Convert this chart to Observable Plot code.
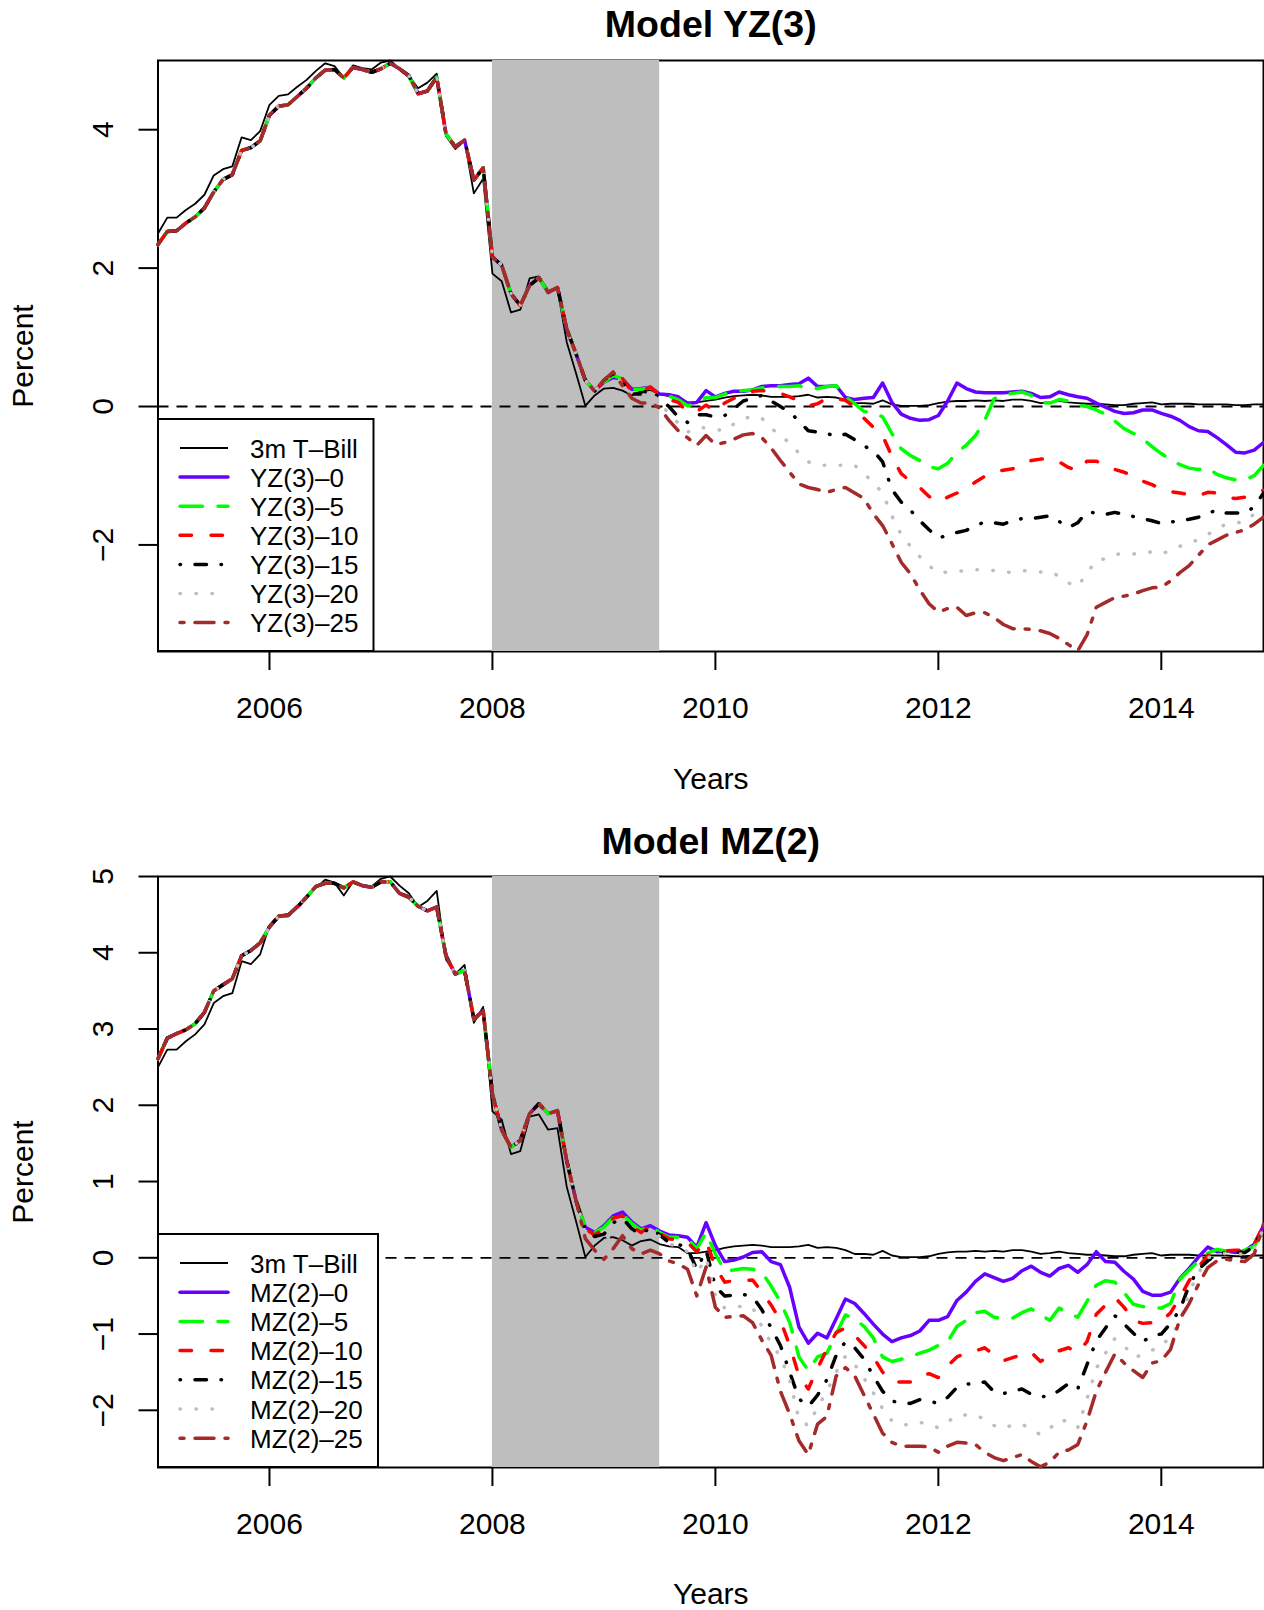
<!DOCTYPE html>
<html><head><meta charset="utf-8">
<script src="https://cdn.jsdelivr.net/npm/d3@7"></script>
<script src="https://cdn.jsdelivr.net/npm/@observablehq/plot@0.6"></script>
<style>
body{margin:0;background:#fff;}
#page{position:relative;width:1264px;height:1610px;font-family:"Liberation Sans",Arial,Helvetica,sans-serif;background:#fff;}
.panel{position:absolute;left:0;}
#overlay{position:absolute;left:0;top:0;pointer-events:none;}
</style></head><body><div id="page"></div>
<script>
// ---------------- data ----------------
const xTicks = [2006, 2008, 2010, 2012, 2014];
const yzTicks = [-2, 0, 2, 4];
const mzTicks = [-2, -1, 0, 1, 2, 3, 4, 5];
const recession = [{start: 2008, end: 2009.5}];
const startYear = 2005; // monthly data, Jan 2005 - Dec 2014

const tbill = [
 2.50, 2.73, 2.73, 2.84, 2.93, 3.06, 3.34, 3.43, 3.47, 3.89, 3.85, 3.98,
 4.36, 4.49, 4.51, 4.62, 4.72, 4.85, 4.96, 4.92, 4.75, 4.93, 4.89, 4.87,
 4.97, 5.00, 4.88, 4.78, 4.60, 4.68, 4.81, 3.91, 3.72, 3.84, 3.08, 3.29,
 1.92, 1.81, 1.36, 1.40, 1.85, 1.88, 1.68, 1.70, 0.93, 0.48, 0.01, 0.16,
 0.26, 0.27, 0.23, 0.16, 0.22, 0.24, 0.18, 0.15, 0.14, 0.06, 0.06, 0.08,
 0.10, 0.13, 0.15, 0.16, 0.17, 0.16, 0.14, 0.14, 0.14, 0.15, 0.17, 0.13,
 0.14, 0.13, 0.10, 0.05, 0.05, 0.04, 0.09, 0.03, 0.01, 0.01, 0.01, 0.02,
 0.05, 0.07, 0.08, 0.08, 0.09, 0.08, 0.09, 0.08, 0.10, 0.10, 0.08, 0.05,
 0.06, 0.08, 0.06, 0.05, 0.04, 0.04, 0.03, 0.02, 0.02, 0.04, 0.05, 0.06,
 0.03, 0.04, 0.04, 0.04, 0.03, 0.03, 0.03, 0.03, 0.02, 0.02, 0.03, 0.03
];

// Model YZ(3): common path Jan 2005 - Oct 2008, then each scenario Nov 2008 - Dec 2014
const yzEarly = [
 2.34, 2.53, 2.54, 2.65, 2.74, 2.87, 3.10, 3.28, 3.35, 3.70, 3.74, 3.84,
 4.21, 4.34, 4.36, 4.48, 4.60, 4.75, 4.86, 4.87, 4.75, 4.90, 4.87, 4.83,
 4.88, 4.96, 4.88, 4.78, 4.52, 4.56, 4.76, 3.94, 3.75, 3.85, 3.27, 3.45,
 2.16, 2.04, 1.63, 1.46, 1.75, 1.86, 1.65, 1.72, 1.12, 0.76
];
const yz0Late = [
 0.38, 0.23,
 0.35, 0.42, 0.40, 0.25, 0.26, 0.28, 0.18, 0.17, 0.14, 0.04, 0.06, 0.23,
 0.14, 0.19, 0.22, 0.22, 0.24, 0.29, 0.30, 0.30, 0.32, 0.33, 0.41, 0.29,
 0.29, 0.30, 0.13, 0.10, 0.12, 0.13, 0.34, 0.06, -0.11, -0.17, -0.20, -0.19,
 -0.13, 0.08, 0.34, 0.26, 0.21, 0.20, 0.20, 0.20, 0.21, 0.22, 0.19, 0.13,
 0.14, 0.21, 0.17, 0.14, 0.12, 0.05, -0.01, -0.07, -0.10, -0.09, -0.05, -0.05,
 -0.10, -0.14, -0.20, -0.29, -0.35, -0.36, -0.45, -0.55, -0.66, -0.67, -0.63, -0.52
];
const yz5Late = [
 0.38, 0.22,
 0.35, 0.45, 0.40, 0.25, 0.25, 0.27, 0.18, 0.15, 0.10, 0.01, 0.04, 0.13,
 0.13, 0.18, 0.22, 0.23, 0.24, 0.27, 0.28, 0.29, 0.29, 0.30, 0.26, 0.26,
 0.29, 0.30, 0.14, 0.04, -0.07, -0.09, -0.15, -0.39, -0.61, -0.71, -0.78, -0.87,
 -0.90, -0.82, -0.66, -0.56, -0.42, -0.20, 0.11, 0.17, 0.19, 0.21, 0.16, 0.06,
 0.05, 0.10, 0.08, 0.02, 0.00, -0.05, -0.11, -0.21, -0.32, -0.39, -0.47, -0.58,
 -0.68, -0.77, -0.84, -0.89, -0.91, -0.89, -0.98, -1.03, -1.06, -1.06, -1.00, -0.85
];
const yz10Late = [
 0.38, 0.22,
 0.38, 0.50, 0.40, 0.22, 0.22, 0.28, 0.17, 0.10, 0.06, -0.08, -0.07, 0.02,
 -0.07, 0.05, 0.12, 0.16, 0.22, 0.23, 0.22, 0.19, 0.14, 0.08, 0.01, 0.04,
 0.12, 0.11, 0.09, -0.01, -0.17, -0.30, -0.42, -0.72, -0.97, -1.08, -1.17, -1.30,
 -1.38, -1.31, -1.25, -1.18, -1.09, -1.01, -0.95, -0.92, -0.90, -0.83, -0.78, -0.76,
 -0.76, -0.80, -0.88, -0.93, -0.79, -0.79, -0.85, -0.91, -0.95, -1.01, -1.08, -1.13,
 -1.19, -1.23, -1.25, -1.27, -1.29, -1.24, -1.25, -1.31, -1.33, -1.31, -1.27, -1.21
];
const yz15Late = [
 0.38, 0.22,
 0.38, 0.48, 0.35, 0.18, 0.18, 0.25, 0.12, 0.00, -0.15, -0.23, -0.12, -0.12,
 -0.15, -0.13, -0.03, 0.08, 0.12, 0.16, 0.08, 0.00, -0.08, -0.21, -0.35, -0.37,
 -0.39, -0.43, -0.40, -0.48, -0.57, -0.64, -0.80, -1.20, -1.38, -1.50, -1.65, -1.78,
 -1.90, -1.86, -1.82, -1.79, -1.72, -1.67, -1.68, -1.70, -1.65, -1.62, -1.62, -1.60,
 -1.58, -1.66, -1.75, -1.68, -1.52, -1.54, -1.56, -1.53, -1.56, -1.59, -1.62, -1.65,
 -1.69, -1.67, -1.65, -1.63, -1.60, -1.55, -1.49, -1.54, -1.54, -1.54, -1.45, -1.25
];
const yz20Late = [
 0.38, 0.22,
 0.38, 0.48, 0.33, 0.15, 0.15, 0.22, 0.05, -0.10, -0.24, -0.37, -0.30, -0.31,
 -0.33, -0.35, -0.25, -0.18, -0.14, -0.17, -0.30, -0.45, -0.51, -0.68, -0.80, -0.85,
 -0.85, -0.85, -0.85, -0.85, -0.97, -1.10, -1.25, -1.58, -1.85, -2.02, -2.17, -2.30,
 -2.41, -2.39, -2.38, -2.37, -2.36, -2.36, -2.37, -2.40, -2.39, -2.37, -2.38, -2.39,
 -2.39, -2.45, -2.55, -2.60, -2.41, -2.22, -2.20, -2.14, -2.12, -2.13, -2.12, -2.10,
 -2.13, -2.08, -2.02, -1.98, -1.92, -1.85, -1.76, -1.70, -1.68, -1.67, -1.55, -1.45
];
const yz25Late = [
 0.38, 0.22,
 0.38, 0.50, 0.30, 0.12, 0.05, 0.05, -0.02, -0.20, -0.35, -0.45, -0.56, -0.42,
 -0.55, -0.52, -0.47, -0.41, -0.39, -0.45, -0.60, -0.78, -0.95, -1.12, -1.17, -1.20,
 -1.24, -1.20, -1.17, -1.25, -1.33, -1.55, -1.72, -1.98, -2.25, -2.42, -2.65, -2.85,
 -2.97, -2.92, -2.90, -3.02, -2.98, -2.98, -3.05, -3.15, -3.21, -3.21, -3.22, -3.24,
 -3.28, -3.35, -3.44, -3.53, -3.30, -2.90, -2.83, -2.76, -2.74, -2.71, -2.66, -2.62,
 -2.61, -2.52, -2.40, -2.30, -2.15, -2.00, -1.93, -1.86, -1.82, -1.78, -1.70, -1.60
];

// Model MZ(2)
const mzEarly = [
 2.61, 2.88, 2.94, 2.99, 3.07, 3.22, 3.50, 3.58, 3.66, 3.96, 4.03, 4.13,
 4.34, 4.48, 4.49, 4.60, 4.73, 4.87, 4.91, 4.91, 4.85, 4.93, 4.88, 4.86,
 4.93, 4.93, 4.78, 4.73, 4.61, 4.55, 4.60, 3.96, 3.72, 3.77, 3.13, 3.24,
 2.15, 1.67, 1.45, 1.54, 1.89, 2.02, 1.89, 1.93, 1.27, 0.75
];
const mz0Late = [
 0.40, 0.33,
 0.42, 0.55, 0.60, 0.47, 0.38, 0.42, 0.35, 0.30, 0.29, 0.27, 0.14, 0.46,
 0.16, -0.05, -0.03, 0.01, 0.07, 0.08, -0.05, -0.09, -0.39, -0.91, -1.12, -0.99,
 -1.05, -0.80, -0.54, -0.60, -0.73, -0.87, -1.00, -1.10, -1.05, -1.02, -0.96, -0.82,
 -0.82, -0.77, -0.56, -0.45, -0.31, -0.21, -0.26, -0.31, -0.27, -0.17, -0.11, -0.19,
 -0.24, -0.14, -0.10, -0.19, -0.09, 0.08, -0.05, -0.06, -0.18, -0.28, -0.44, -0.49,
 -0.49, -0.45, -0.27, -0.14, 0.01, 0.14, 0.08, 0.09, 0.07, 0.09, 0.18, 0.42
];
const mz5Late = [
 0.40, 0.33,
 0.40, 0.53, 0.57, 0.45, 0.36, 0.42, 0.33, 0.27, 0.27, 0.25, 0.12, 0.33,
 0.05, -0.17, -0.16, -0.14, -0.15, -0.19, -0.37, -0.58, -0.85, -1.30, -1.48, -1.30,
 -1.25, -1.00, -0.75, -0.80, -0.90, -1.05, -1.30, -1.36, -1.33, -1.30, -1.25, -1.21,
 -1.15, -1.10, -0.90, -0.82, -0.72, -0.70, -0.78, -0.80, -0.79, -0.72, -0.67, -0.75,
 -0.82, -0.66, -0.72, -0.78, -0.57, -0.36, -0.30, -0.32, -0.46, -0.61, -0.64, -0.66,
 -0.66, -0.60, -0.28, -0.16, -0.04, 0.06, 0.11, 0.09, 0.08, 0.10, 0.15, 0.35
];
const mz10Late = [
 0.38, 0.30,
 0.38, 0.52, 0.55, 0.42, 0.33, 0.42, 0.32, 0.25, 0.23, 0.20, 0.08, 0.22,
 -0.12, -0.32, -0.30, -0.30, -0.29, -0.45, -0.62, -0.82, -1.15, -1.55, -1.72, -1.45,
 -1.20, -0.98, -0.92, -1.02, -1.15, -1.30, -1.50, -1.62, -1.63, -1.63, -1.55, -1.52,
 -1.57, -1.42, -1.30, -1.25, -1.22, -1.18, -1.28, -1.35, -1.31, -1.27, -1.24, -1.36,
 -1.28, -1.22, -1.18, -1.24, -1.10, -0.74, -0.62, -0.52, -0.65, -0.82, -0.86, -0.85,
 -0.84, -0.72, -0.52, -0.30, -0.12, 0.03, 0.07, 0.09, 0.10, 0.10, 0.18, 0.42
];
const mz15Late = [
 0.35, 0.28,
 0.31, 0.46, 0.52, 0.38, 0.30, 0.40, 0.30, 0.20, 0.18, 0.12, -0.15, 0.10,
 -0.38, -0.50, -0.49, -0.48, -0.51, -0.68, -0.92, -1.15, -1.50, -1.85, -1.95, -1.80,
 -1.60, -1.28, -1.10, -1.18, -1.33, -1.55, -1.75, -1.88, -1.90, -1.91, -1.86, -1.88,
 -1.91, -1.83, -1.70, -1.66, -1.64, -1.63, -1.76, -1.78, -1.75, -1.72, -1.79, -1.82,
 -1.82, -1.74, -1.65, -1.72, -1.40, -1.09, -0.92, -0.76, -0.87, -0.99, -1.10, -1.02,
 -1.00, -0.86, -0.68, -0.36, -0.15, -0.04, 0.05, 0.07, 0.07, 0.07, 0.15, 0.40
];
const mz20Late = [
 0.32, 0.22,
 0.20, 0.35, 0.45, 0.32, 0.28, 0.35, 0.28, 0.18, 0.15, 0.08, -0.20, 0.00,
 -0.50, -0.66, -0.64, -0.64, -0.65, -0.90, -1.12, -1.30, -1.60, -2.12, -2.20, -1.96,
 -1.75, -1.50, -1.29, -1.40, -1.58, -1.77, -1.98, -2.14, -2.19, -2.19, -2.16, -2.18,
 -2.23, -2.15, -2.07, -2.06, -2.06, -2.12, -2.20, -2.24, -2.19, -2.18, -2.25, -2.32,
 -2.24, -2.12, -2.15, -2.23, -1.85, -1.45, -1.25, -1.06, -1.15, -1.30, -1.28, -1.21,
 -1.17, -1.02, -0.85, -0.45, -0.20, 0.00, 0.04, 0.06, 0.05, 0.05, 0.12, 0.38
];
const mz25Late = [
 0.25, 0.10,
 -0.02, 0.12, 0.29, 0.12, 0.05, 0.10, 0.05, -0.04, -0.08, -0.15, -0.50, -0.12,
 -0.65, -0.78, -0.77, -0.76, -0.85, -1.08, -1.28, -1.75, -2.05, -2.40, -2.58, -2.18,
 -2.08, -1.55, -1.44, -1.55, -1.80, -2.05, -2.30, -2.42, -2.47, -2.47, -2.47, -2.48,
 -2.55, -2.47, -2.42, -2.43, -2.45, -2.55, -2.62, -2.66, -2.62, -2.58, -2.67, -2.74,
 -2.68, -2.55, -2.52, -2.45, -2.14, -1.75, -1.50, -1.26, -1.38, -1.48, -1.57, -1.38,
 -1.35, -1.20, -0.80, -0.60, -0.35, -0.13, -0.04, -0.02, -0.04, -0.05, 0.05, 0.44
];

const scenarios = ["0", "5", "10", "15", "20", "25"];
const yzLate = [yz0Late, yz5Late, yz10Late, yz15Late, yz20Late, yz25Late];
const mzLate = [mz0Late, mz5Late, mz10Late, mz15Late, mz20Late, mz25Late];

// ---------------- styles ----------------
const FONT = '"Liberation Sans", Arial, Helvetica, sans-serif';
const modelColors = ["#6600FF", "#00FF00", "#FF0000", "#000000", "#BEBEBE", "#A52A2A"];
const modelDash = [null, "22.5,15.5", "11.5,19.5", "0.5,14.5,11.5,14.5", "0.5,15.5", "4,11,19,11"];
const modelWidth = 3.5;
const tbillWidth = 1.8;

function rows(values) {
  return values.map((v, i) => ({t: startYear + i / 12, v}));
}
const intFormat = d => (d < 0 ? "\u2212" + Math.abs(d) : String(d));

function makePanel(cfg) {
  const series = cfg.late.map(l => rows(cfg.early.concat(l)));
  const lineOpts = (i) => {
    const o = {x: "t", y: "v", stroke: modelColors[i], strokeWidth: modelWidth,
      strokeLinejoin: "round", strokeLinecap: "round"};
    if (modelDash[i]) o.strokeDasharray = modelDash[i];
    return o;
  };
  return Plot.plot({
    width: 1264, height: cfg.height,
    marginTop: cfg.marginTop, marginBottom: cfg.marginBottom,
    marginLeft: 157.5, marginRight: 1,
    style: {fontFamily: FONT, color: "black", background: "transparent", overflow: "visible"},
    x: {type: "linear", domain: [startYear, startYear + 119 / 12]},
    y: {type: "linear", domain: cfg.yDomain},
    marks: [
      Plot.frame({stroke: "black", strokeWidth: 2}),
      Plot.rect(recession, {x1: "start", x2: "end", fill: "#BEBEBE"}),
      Plot.ruleY([0], {stroke: "black", strokeWidth: 1.8, strokeDasharray: "11,8"}),
      Plot.line(rows(tbill), {x: "t", y: "v", stroke: "black", strokeWidth: tbillWidth, strokeLinejoin: "round"}),
      ...series.map((s, i) => Plot.line(s, lineOpts(i))),
      Plot.axisX(xTicks, {tickSize: 19, tickPadding: 25.7, fontSize: 30, strokeWidth: 2,
        tickFormat: d => String(d), label: null}),
      Plot.axisY(cfg.yTicks, {tickSize: 19, tickPadding: 26.5, tickRotate: -90, fontSize: 30,
        strokeWidth: 2, tickFormat: intFormat, label: null}),
      Plot.text([cfg.title], {text: d => d, frameAnchor: "top", dy: cfg.titleDy, fontSize: 37.5,
        fontWeight: "bold", textAnchor: "middle", lineAnchor: "middle"}),
      Plot.text(["Percent"], {text: d => d, frameAnchor: "left", dx: -134.5, rotate: -90,
        fontSize: 30, textAnchor: "middle", lineAnchor: "middle"}),
      Plot.text(["Years"], {text: d => d, frameAnchor: "bottom", dy: cfg.yearsDy, fontSize: 30,
        textAnchor: "middle", lineAnchor: "bottom"})
    ]
  });
}

const page = document.getElementById("page");

const p1 = makePanel({title: "Model YZ(3)", early: yzEarly, late: yzLate, yDomain: [-3.54, 5.0],
  yTicks: yzTicks, height: 805, marginTop: 60, marginBottom: 154, titleDy: -36, yearsDy: 137});
const d1 = document.createElement("div"); d1.className = "panel"; d1.style.top = "0px";
d1.appendChild(p1); page.appendChild(d1);

const p2 = makePanel({title: "Model MZ(2)", early: mzEarly, late: mzLate, yDomain: [-2.75, 5.0],
  yTicks: mzTicks, height: 805, marginTop: 71, marginBottom: 143, titleDy: -35, yearsDy: 136});
const d2 = document.createElement("div"); d2.className = "panel"; d2.style.top = "805px";
d2.appendChild(p2); page.appendChild(d2);

// ---------------- legends ----------------
const overlay = d3.select(page).append("svg").attr("id", "overlay")
  .attr("width", 1264).attr("height", 1610);

function legend(prefix, box) {
  const g = overlay.append("g");
  g.append("rect").attr("x", box.x).attr("y", box.y).attr("width", box.w).attr("height", box.h)
    .attr("fill", "white").attr("stroke", "black").attr("stroke-width", 2);
  const labels = ["3m T\u2013Bill"].concat(scenarios.map(s => prefix + "\u2013" + s));
  labels.forEach((lab, i) => {
    const cy = box.y + 29 + i * box.step;
    const ln = g.append("line").attr("x1", 180).attr("x2", 228).attr("y1", cy).attr("y2", cy)
      .attr("stroke-linecap", i === 0 ? "butt" : "round");
    if (i === 0) {
      ln.attr("stroke", "black").attr("stroke-width", tbillWidth);
    } else {
      ln.attr("stroke", modelColors[i - 1]).attr("stroke-width", modelWidth);
      if (modelDash[i - 1]) ln.attr("stroke-dasharray", modelDash[i - 1]);
    }
    g.append("text").attr("x", 250).attr("y", cy + 9.5).attr("font-family", FONT)
      .attr("font-size", 26).attr("fill", "black").text(lab);
  });
}
legend("YZ(3)", {x: 158, y: 419, w: 215.5, h: 232, step: 29.1});
legend("MZ(2)", {x: 158, y: 1234, w: 220, h: 233, step: 29.2});
</script>
</body></html>
